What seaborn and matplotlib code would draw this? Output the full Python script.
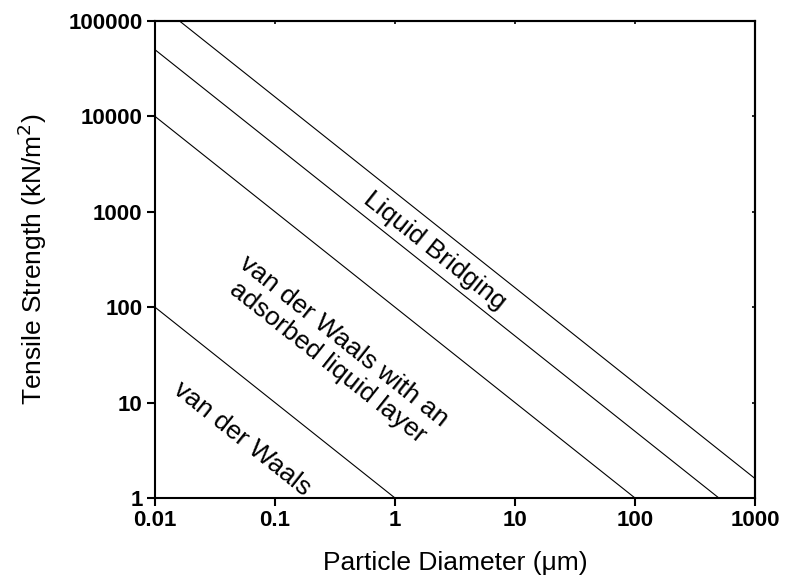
import matplotlib
matplotlib.use("Agg")
import matplotlib.pyplot as plt
import seaborn as sns
import pandas as pd

sns.set_style("ticks")
plt.rcParams['font.family'] = ['Liberation Sans', 'DejaVu Sans']
plt.rcParams['text.color'] = 'black'
plt.rcParams['axes.labelcolor'] = 'black'
plt.rcParams['xtick.color'] = 'black'
plt.rcParams['ytick.color'] = 'black'

# Data (log-log straight lines, endpoints)
vdw_x = [0.01, 1]
vdw_y = [100, 1]
ads_x = [0.01, 100]
ads_y = [10000, 1]
lb_low_x = [0.01, 500]
lb_low_y = [50000, 1]
lb_high_x = [0.016, 1000]
lb_high_y = [100000, 1.6]

x_ticks = [0.01, 0.1, 1, 10, 100, 1000]
x_tick_labels = ["0.01", "0.1", "1", "10", "100", "1000"]
y_ticks = [1, 10, 100, 1000, 10000, 100000]
y_tick_labels = ["1", "10", "100", "1000", "10000", "100000"]

series = [("vdw", vdw_x, vdw_y), ("ads", ads_x, ads_y),
          ("lb_low", lb_low_x, lb_low_y), ("lb_high", lb_high_x, lb_high_y)]
rows = []
for name, xs, ys in series:
    for xv, yv in zip(xs, ys):
        rows.append({"series": name, "x": xv, "y": yv})
df = pd.DataFrame(rows)

fig = plt.figure(figsize=(7.85, 5.85), dpi=100)
ax = fig.add_axes([155/785, 1-498/585, 600/785, 477/585])
for name, _, _ in series:
    sns.lineplot(data=df[df.series == name], x="x", y="y", ax=ax,
                 color="black", linewidth=0.8, legend=False, estimator=None, sort=False)

ax.set_xscale("log")
ax.set_yscale("log")
ax.set_xlim(0.01, 1000)
ax.set_ylim(1, 100000)
ax.set_xticks(x_ticks)
ax.set_xticklabels(x_tick_labels)
ax.set_yticks(y_ticks)
ax.set_yticklabels(y_tick_labels)
ax.minorticks_off()
ax.tick_params(axis="both", which="major", direction="out", length=6, width=1.5,
               labelsize=16, pad=3, colors="black")
for lab in ax.get_xticklabels() + ax.get_yticklabels():
    lab.set_fontweight("bold")
for sp in ax.spines.values():
    sp.set_linewidth(1.5)
    sp.set_color("black")

# tiny inward ticks on the right and top spines
sec_r = ax.secondary_yaxis("right")
sec_r.set_yticks(y_ticks)
sec_r.set_yticklabels([])
sec_r.tick_params(direction="in", length=2, width=1.2, colors="black")
sec_r.spines["right"].set_linewidth(1.5)
sec_t = ax.secondary_xaxis("top")
sec_t.set_xticks(x_ticks)
sec_t.set_xticklabels([])
sec_t.tick_params(direction="in", length=2, width=1.2, colors="black")
sec_t.spines["top"].set_linewidth(1.5)
for s in (sec_r, sec_t):
    s.minorticks_off()

ax.set_xlabel("Particle Diameter (\u03bcm)", fontsize=19, labelpad=14, color="black")
ax.set_ylabel("Tensile Strength (kN/m$^2$)", fontsize=19, labelpad=14, color="black")

ang = -38.5
ax.text(2.15, 390, "Liquid Bridging", rotation=ang, ha="center", va="center",
        fontsize=19, rotation_mode="anchor", color="black")
ax.text(0.32, 34, "van der Waals with an\nadsorbed liquid layer", rotation=ang,
        ha="center", va="center", fontsize=19, rotation_mode="anchor",
        linespacing=1.15, color="black")
ax.text(0.053, 4.2, "van der Waals", rotation=ang, ha="center", va="center",
        fontsize=19, rotation_mode="anchor", color="black")

fig.savefig("out.png", dpi=100)
